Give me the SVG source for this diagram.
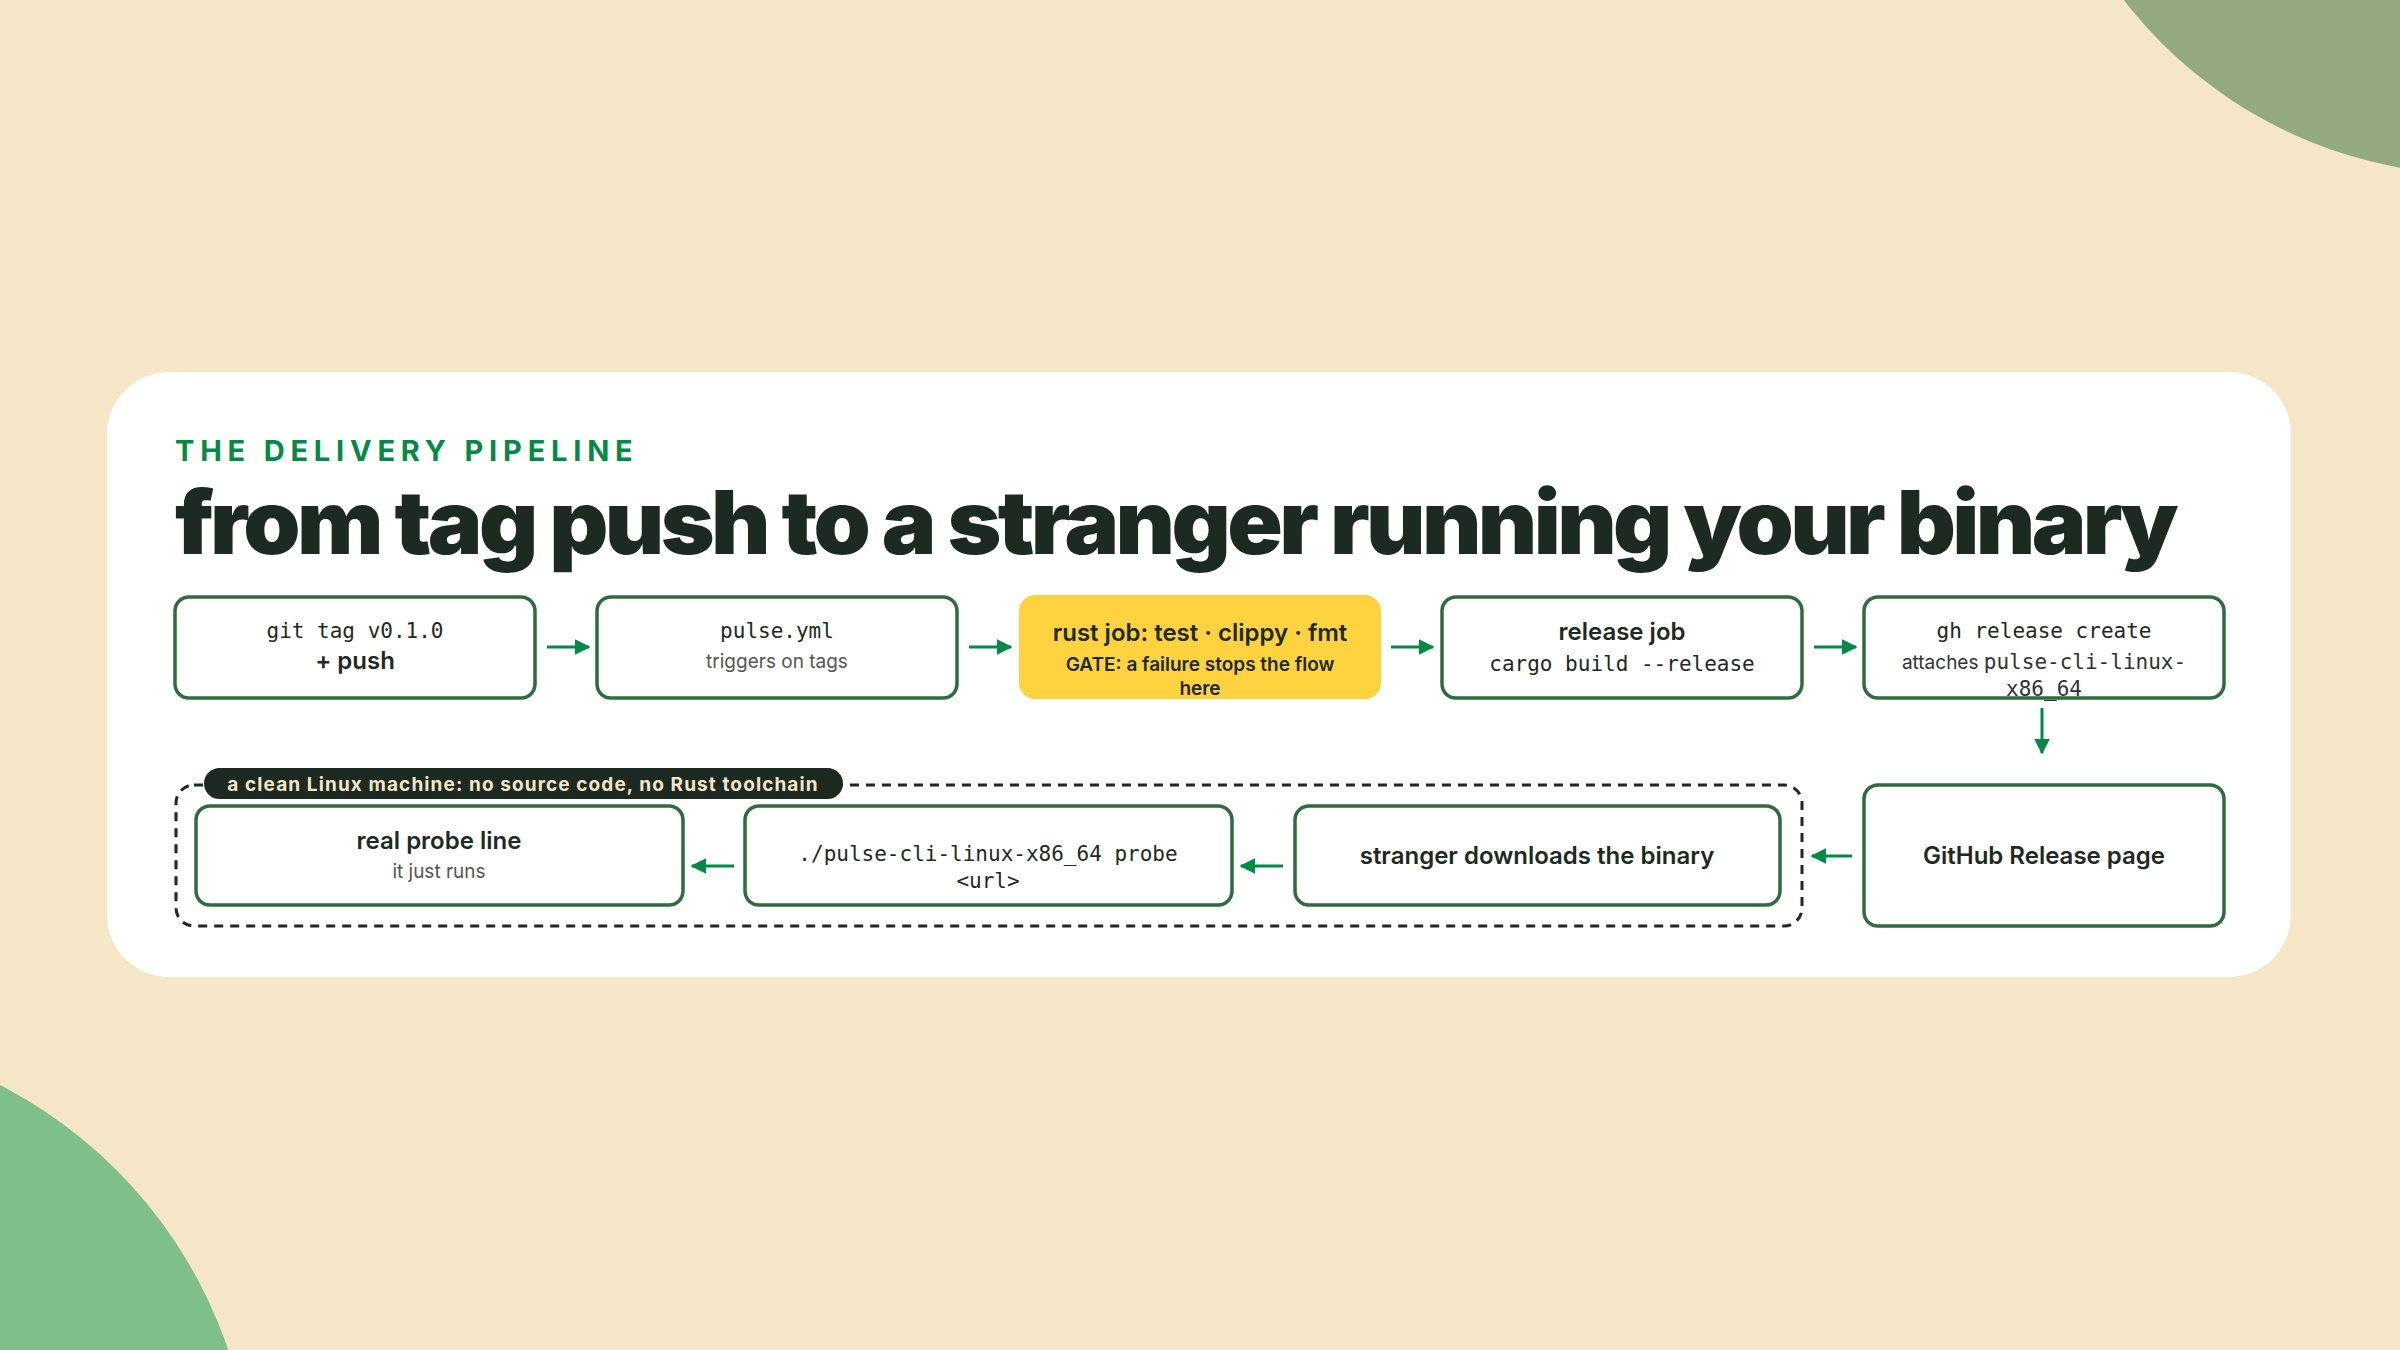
<svg xmlns="http://www.w3.org/2000/svg" width="2400" height="1350" viewBox="0 0 2400 1350">
<style>
.box{fill:#fff;stroke:#2f6b3f;stroke-width:3.5}
.t{font-family:Inter,"Noto Sans",sans-serif;font-size:24px;font-weight:600;fill:#1d2a22;text-anchor:middle}
.m{font-family:"DejaVu Sans Mono","Liberation Mono",monospace;font-size:21px;fill:#1d2a22;text-anchor:middle}
.s{font-family:Inter,"Noto Sans",sans-serif;font-size:19px;fill:#555;text-anchor:middle}
.ms{font-family:"DejaVu Sans Mono","Liberation Mono",monospace;font-size:21px;fill:#333}
.c{stroke:#008a45;stroke-width:3;fill:none}
</style>
<defs>
<marker id="b" viewBox="0 0 10 10" refX="9" refY="5" markerWidth="16" markerHeight="16" orient="auto" markerUnits="userSpaceOnUse"><path d="M0,0L10,5L0,10z" fill="#008a45"/></marker></defs>
<rect width="2400" height="1350" fill="#f5e6c8"/>
<circle cx="2480" cy="-275" r="450" fill="#93aa80"/>
<circle cx="-214" cy="1500" r="467" fill="#7fbf8c"/>
<rect x="107" y="372" width="2184" height="605" rx="62" fill="#fff"/>
<text x="175" y="461" font-family="Inter,'Noto Sans',sans-serif" font-size="29" font-weight="700" letter-spacing="5.8" fill="#008a45">THE DELIVERY PIPELINE</text>
<text x="175" y="554" font-family="Inter,'Noto Sans',sans-serif" font-size="88" font-weight="900" letter-spacing="-3.5" fill="#1d2a22" textLength="2000" lengthAdjust="spacingAndGlyphs">from tag push to a stranger running your binary</text>
<g id="container"><rect x="176" y="785" width="1626" height="141" rx="18" fill="none" stroke="#1d2a22" stroke-width="3" stroke-dasharray="9 7"/>
<rect x="204" y="768" width="639" height="31" rx="15.5" fill="#1d2a22"/>
<text x="523" y="791" font-family="Inter,'Noto Sans',sans-serif" font-size="19" font-weight="700" letter-spacing="1.1" fill="#f5e6c8" text-anchor="middle">a clean Linux machine: no source code, no Rust toolchain</text></g>
<g id="n1"><rect class="box" x="175" y="597" width="360" height="101" rx="14"/><text class="m" x="355" y="638">git tag v0.1.0</text><text class="t" x="355" y="669">+ push</text></g>
<g id="n2"><rect class="box" x="597" y="597" width="360" height="101" rx="14"/><text class="m" x="777" y="638">pulse.yml</text><text class="s" x="777" y="668">triggers on tags</text></g>
<g id="n3"><rect x="1019" y="595" width="362" height="104" rx="16" fill="#ffd23f"/><text class="t" x="1200" y="641">rust job: test · clippy · fmt</text><text class="t" x="1200" y="671" style="font-size:19px">GATE: a failure stops the flow</text><text class="t" x="1200" y="695" style="font-size:19px">here</text></g>
<g id="n4"><rect class="box" x="1442" y="597" width="360" height="101" rx="14"/><text class="t" x="1622" y="640">release job</text><text class="m" x="1622" y="671" fill="#333">cargo build --release</text></g>
<g id="n5"><rect class="box" x="1864" y="597" width="360" height="101" rx="14"/><text class="m" x="2044" y="638">gh release create</text><text x="2044" y="669" text-anchor="middle"><tspan class="s" style="fill:#333">attaches </tspan><tspan class="ms">pulse-cli-linux-</tspan></text><text class="ms" x="2044" y="696" text-anchor="middle">x86_64</text></g>
<g id="n6"><rect class="box" x="1864" y="785" width="360" height="141" rx="14"/><text class="t" x="2044" y="864">GitHub Release page</text></g>
<g id="n7"><rect class="box" x="1295" y="806" width="485" height="99" rx="14"/><text class="t" x="1537" y="864">stranger downloads the binary</text></g>
<g id="n8"><rect class="box" x="745" y="806" width="487" height="99" rx="14"/><text class="m" x="988" y="861">./pulse-cli-linux-x86_64 probe</text><text class="m" x="988" y="888">&lt;url&gt;</text></g>
<g id="n9"><rect class="box" x="196" y="806" width="487" height="99" rx="14"/><text class="t" x="439" y="849">real probe line</text><text class="s" x="439" y="878">it just runs</text></g>
<g id="connectors">
<path class="c" d="M547 647H589" marker-end="url(#b)"/>
<path class="c" d="M969 647H1011" marker-end="url(#b)"/>
<path class="c" d="M1391 647H1433" marker-end="url(#b)"/>
<path class="c" d="M1814 647H1856" marker-end="url(#b)"/>
<path class="c" stroke-width="2" d="M2042 708V753" marker-end="url(#b)"/>
<path class="c" d="M1852 856H1812" marker-end="url(#b)"/>
<path class="c" d="M1283 866H1241" marker-end="url(#b)"/>
<path class="c" d="M734 866H692" marker-end="url(#b)"/>
</g>
</svg>
